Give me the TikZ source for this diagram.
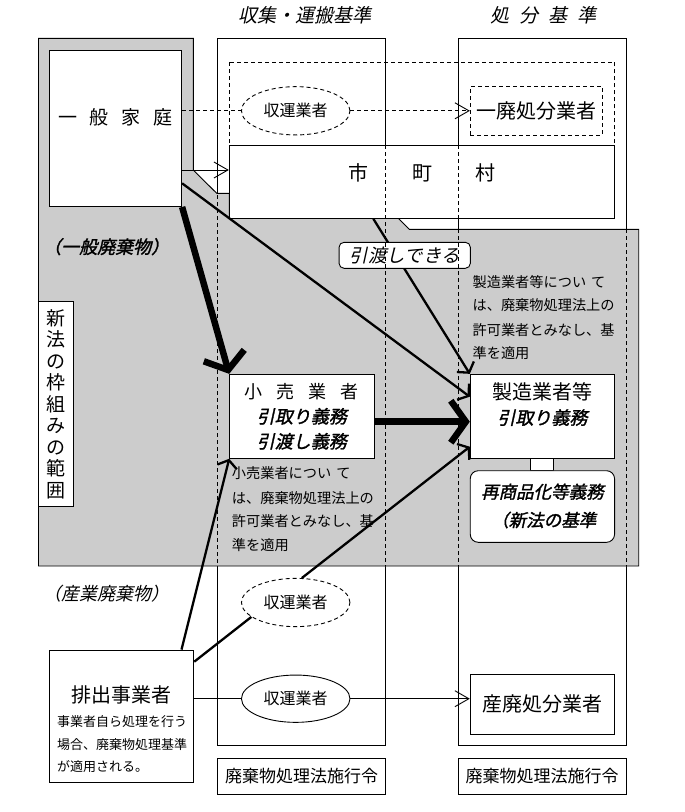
\documentclass[tikz,border=0pt]{standalone}
\usepackage{fontspec}
\setmainfont{Noto Sans CJK JP}
\newfontfamily\jp{Noto Sans CJK JP}
\newfontfamily\jpi[FakeSlant=0.22]{Noto Sans CJK JP}
\newfontfamily\jpbi[FakeSlant=0.22,FakeBold=1.5]{Noto Sans CJK JP}
\usetikzlibrary{arrows.meta,shapes.geometric}
\definecolor{shade}{RGB}{204,204,204}
\newcommand\myfs[1]{\fontsize{#1}{#1}\selectfont}
\begin{document}
\begin{tikzpicture}[x=1pt,y=-1pt,
  bx/.style={draw, fill=white, line width=0.9pt, inner sep=0pt},
  dbx/.style={draw, fill=white, line width=0.9pt, inner sep=0pt, dash pattern=on 4pt off 3pt},
  dashln/.style={line width=0.9pt, dash pattern=on 4pt off 3pt},
  ln/.style={line width=0.9pt},
  ell/.style={ellipse, draw, fill=white, line width=0.9pt, inner sep=0pt, minimum width=108.5pt},
  conn/.style={line width=2.3pt},
  thk/.style={line width=6.5pt},
  bigarr/.style={-{Straight Barb[length=14pt,width=16pt]}},
  smallarr/.style={-{Straight Barb[length=7pt,width=20pt]}},
  thkarr/.style={-{Straight Barb[length=15pt,width=42pt]}},
  lbl/.style={inner sep=0pt}
]
\fill[white] (0,0) rectangle (685,812);
\useasboundingbox (0,0) rectangle (685,812);

% titles
\node[lbl, font=\jpi\myfs{19}] (t1) at (305,15.5) {収集・運搬基準};
\node[lbl, font=\jpi\myfs{19}] (t2) at (543.6,15.5) {処\hspace{10pt}分\hspace{10pt}基\hspace{10pt}準};

% column frames
\node[draw, line width=0.9pt, inner sep=0pt, minimum width=167.8pt, minimum height=707.7pt] (col1) at (301.6,391.85) {};
\node[draw, line width=0.9pt, inner sep=0pt, minimum width=168.4pt, minimum height=707.7pt] (col2) at (542.2,391.85) {};

% scope of new law (gray)
\filldraw[fill=shade, line width=0.9pt] (38.5,38.3) -- (193.3,38.3) -- (193.3,170) -- (216.7,193.3) -- (229.3,193.3) -- (229.3,218.3) -- (398.3,218.3) -- (409.3,229.3) -- (638.7,229.3) -- (638.7,566) -- (38.5,566) -- cycle;

% dashed municipal area
\draw[dashln] (229.6,62.3) rectangle (614.6,218.3);

% household
\node[bx, minimum width=132.3pt, minimum height=155.8pt] (jk) at (115.5,128.6) {};
\node[lbl, font=\jp\myfs{19}] (jkl) at (115.5,117) {一\hspace{13pt}般\hspace{13pt}家\hspace{13pt}庭};

% municipality
\node[bx, minimum width=385.3pt, minimum height=73.3pt] (ccs) at (421.95,181.65) {};
\node[lbl, font=\jp\myfs{20}] (ccsl) at (422.2,173) {市\hspace{43.5pt}町\hspace{43.5pt}村};

\node[ell, dash pattern=on 4pt off 3pt, minimum height=48.3pt, font=\jp\myfs{16}] (sy1) at (295.7,110.8) {収運業者};
\node[dbx, minimum width=132pt, minimum height=48.3pt, font=\jp\myfs{20}] (ippai) at (536.3,110.8) {一廃処分業者};

\node[lbl, font=\jpbi\myfs{18}, anchor=west] (gen) at (43,246.7) {（一般廃棄物）};

% text A
\node[lbl, font=\jp\myfs{14.2}, anchor=west] (ta1) at (472.4,281.7) {製造業者等につい\hspace{5pt}て};
\node[lbl, font=\jp\myfs{14.2}, anchor=west] (ta2) at (472.4,305) {は、廃棄物処理法上の};
\node[lbl, font=\jp\myfs{14.2}, anchor=west] (ta3) at (472.4,330) {許可業者とみなし、基};
\node[lbl, font=\jp\myfs{14.2}, anchor=west] (ta4) at (472.4,353.3) {準を適用};

% vertical label
\node[bx, minimum width=34.5pt, minimum height=204.3pt, align=center, font=\jp\fontsize{19}{21.5}\selectfont] (sh) at (55.75,403.85) {新\\法\\の\\枠\\組\\み\\の\\範\\囲};

% retailer
\node[bx, minimum width=144.3pt, minimum height=84pt, align=center, font=\jp\fontsize{18}{25}\selectfont] (kouri) at (301.8,416.3) {小\hspace{14pt}売\hspace{14pt}業\hspace{14pt}者\\{\jpbi 引取り義務}\\{\jpbi 引渡し義務}};

% manufacturer
\node[bx, minimum width=144.3pt, minimum height=84pt] (seizo) at (542.4,416.3) {};
\node[lbl, align=center, font=\jp\fontsize{20}{25}\selectfont] (seizol) at (542.4,404.2) {製造業者等\\{\jpbi\fontsize{18}{25}\selectfont 引取り義務}};
\node[bx, minimum width=23.2pt, minimum height=12.4pt] (lnk) at (541.8,464.5) {};
\node[bx, rounded corners=8pt, minimum width=144.3pt, minimum height=71.6pt] (ss) at (542.4,506.5) {};
\node[lbl, font=\jpbi\myfs{17.5}] (ssl1) at (542.4,491.7) {再商品化等義務};
\node[lbl, font=\jpbi\myfs{17.5}, anchor=west] (ssl2) at (491,520) {（新法の基準};

% text B
\node[lbl, font=\jp\myfs{14.2}, anchor=west] (tb1) at (231.7,473.3) {小売業者につい\hspace{5pt}て};
\node[lbl, font=\jp\myfs{14.2}, anchor=west] (tb2) at (231.7,498) {は、廃棄物処理法上の};
\node[lbl, font=\jp\myfs{14.2}, anchor=west] (tb3) at (231.7,520.7) {許可業者とみなし、基};
\node[lbl, font=\jp\myfs{14.2}, anchor=west] (tb4) at (231.7,545) {準を適用};

% industrial
\node[lbl, font=\jpi\myfs{18}, anchor=west] (ind) at (43,593.3) {（産業廃棄物）};
\node[ell, dash pattern=on 4pt off 3pt, minimum height=48.3pt, font=\jp\myfs{16}] (sy2) at (295.7,602.5) {収運業者};
\node[bx, minimum width=144.4pt, minimum height=132.3pt] (hs) at (121.6,716.2) {};
\node[lbl, font=\jp\myfs{20}] (hsl) at (121.5,695) {排出事業者};
\node[lbl, font=\jp\myfs{13}, anchor=west] (hs1) at (56.9,721.7) {事業者自ら処理を行う};
\node[lbl, font=\jp\myfs{13}, anchor=west] (hs2) at (56.9,745) {場合、廃棄物処理基準};
\node[lbl, font=\jp\myfs{13}, anchor=west] (hs3) at (56.9,766.7) {が適用される。};
\node[ell, minimum height=47.3pt, font=\jp\myfs{16}] (sy3) at (295.7,698.7) {収運業者};
\node[bx, minimum width=144.3pt, minimum height=60pt, font=\jp\myfs{20}] (sp) at (542.4,704.3) {産廃処分業者};

% law boxes
\node[bx, minimum width=167.8pt, minimum height=36pt, font=\jp\myfs{17}] (law1) at (301.6,776.3) {廃棄物処理法施行令};
\node[bx, minimum width=168.4pt, minimum height=36pt, font=\jp\myfs{17}] (law2) at (542.2,776.3) {廃棄物処理法施行令};

% connectors
\coordinate (y170) at (0,170);
\coordinate (y183) at (0,183.3);
\coordinate (y397) at (0,396.7);
\coordinate (x373) at (373.3,0);
\coordinate (y422) at (0,421.7);
\coordinate (x181) at (181.5,0);
\coordinate (y662) at (0,661.7);
\coordinate (y447) at (0,446.7);

\draw[dashln] (jk.east |- sy1.west) -- (sy1.west);
\draw[dashln, bigarr] (sy1.east) -- (ippai.west);
\draw[ln, bigarr] (jk.east |- y170) -- (ccs.west |- y170);
\draw[thk, thkarr] (jk.south east) -- (kouri.north west);
\draw[conn, smallarr] (jk.east |- y183) -- (seizo.west |- y397);
\draw[conn, smallarr] (ccs.south -| x373) -- (seizo.north west);
\draw[thk, thkarr] (kouri.east |- y422) -- (seizo.west |- y422);
\draw[conn, smallarr] (hs.north -| x181) -- (kouri.south west);
\draw[conn] (hs.east |- y662) -- (sy2.198);
\draw[conn, smallarr] (sy2.76) -- (seizo.west |- y447);
\draw[ln] (hs.east |- sy3.west) -- (sy3.west);
\draw[ln, bigarr] (sy3.east) -- (sp.west |- sy3.east);

% hand-over label
\node[bx, rounded corners=5pt, minimum width=131.3pt, minimum height=26pt, font=\jpi\myfs{18.5}] (hw) at (404.7,255.3) {引渡しできる};

% column edges seen through
\draw[dashln] (217.7,160) -- (217.7,566);
\draw[dashln] (385.5,145) -- (385.5,566);
\draw[dashln] (458,145) -- (458,566);
\draw[dashln] (626.4,229.3) -- (626.4,566);
\end{tikzpicture}
\end{document}
